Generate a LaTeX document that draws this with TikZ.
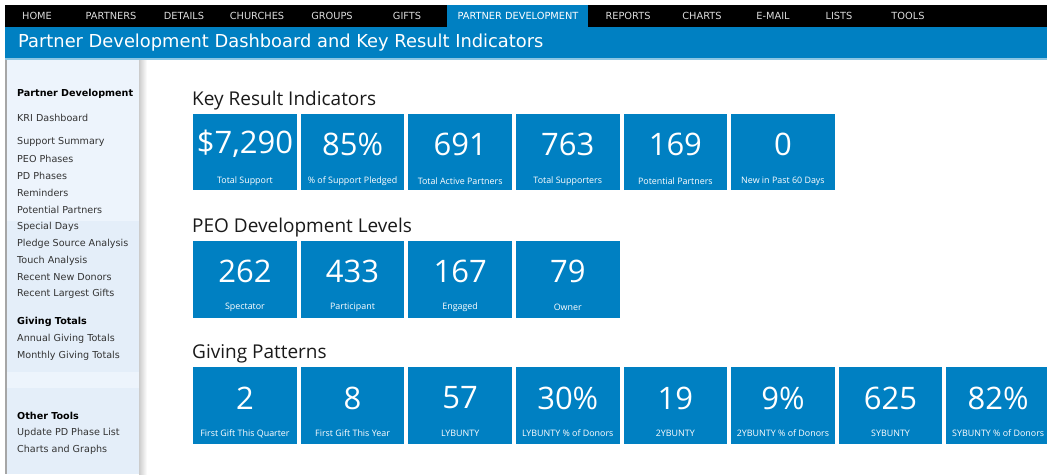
\documentclass[tikz,border=0pt]{standalone}
\usepackage{fontspec}
\setmainfont{DejaVu Sans}
\newfontfamily\osans{Open Sans}
\usetikzlibrary{calc}
\definecolor{dblue}{HTML}{0080C2}
\definecolor{navtxt}{HTML}{DCDCDC}
\definecolor{sideA}{HTML}{EDF4FC}
\definecolor{sideB}{HTML}{E4EEF9}
\definecolor{sidetxt}{HTML}{333333}
\definecolor{headtxt}{HTML}{1A1A1A}
\tikzset{
  navitem/.style={text=navtxt, font=\fontsize{9.8}{11}\selectfont, inner sep=0pt},
  sideitem/.style={text=sidetxt, font=\fontsize{9.6}{11}\selectfont, anchor=west, inner sep=0pt},
  sidehead/.style={text=black, font=\fontsize{9.6}{11}\selectfont\bfseries, anchor=west, inner sep=0pt},
  sechead/.style={text=headtxt, font=\osans\fontsize{19}{22}\selectfont, anchor=west, inner sep=0pt},
  tilebox/.style={fill=dblue, draw=none, minimum width=103.5pt, minimum height=76.5pt, anchor=north west, inner sep=0pt},
  tilenum/.style={text=white, font=\osans\fontsize{31}{34}\selectfont, inner sep=0pt},
  tilelab/.style={text=white, font=\osans\fontsize{8.9}{10}\selectfont, inner sep=0pt},
}
\begin{document}
\begin{tikzpicture}[x=1pt,y=-1pt]
\useasboundingbox (0,0) rectangle (1047,474);
\clip (0,0) rectangle (1047,474);
\fill[white] (0,0) rectangle (1047,474);
% top nav
\fill[black] (5,5) rectangle (1047,27);
\fill[dblue] (447,5) rectangle (588,27);
\node[navitem] (n1) at (37,16) {HOME};
\node[navitem] (n2) at (111,16) {PARTNERS};
\node[navitem] (n3) at (184,16) {DETAILS};
\node[navitem] (n4) at (257,16) {CHURCHES};
\node[navitem] (n5) at (332,16) {GROUPS};
\node[navitem] (n6) at (407,16) {GIFTS};
\node[navitem, text=white] (n7) at (518,16) {PARTNER DEVELOPMENT};
\node[navitem] (n8) at (628,16) {REPORTS};
\node[navitem] (n9) at (702,16) {CHARTS};
\node[navitem] (n10) at (773,16) {E-MAIL};
\node[navitem] (n11) at (839,16) {LISTS};
\node[navitem] (n12) at (908,16) {TOOLS};
% title bar
\fill[dblue] (5,27) rectangle (1047,58);
\fill[dblue!45] (5,58) rectangle (1047,60);
\node[text=white, font=\fontsize{17.85}{20}\selectfont, anchor=west, inner sep=0pt] (title) at (18,43) {Partner Development Dashboard and Key Result Indicators};
% sidebar
\fill[sideA] (5,60) rectangle (140,221);
\fill[sideB] (5,221) rectangle (140,372);
\fill[sideA] (5,372) rectangle (140,388);
\fill[sideB] (5,388) rectangle (140,474);
\fill[gray!70] (5,60) rectangle (6.5,474);
\shade[left color=gray!40, right color=white] (139,60) rectangle (147,474);
\node[sidehead] (s0) at (17,94) {Partner Development};
\node[sideitem] (s1) at (17,118) {KRI Dashboard};
\node[sideitem] (s2) at (17,142) {Support Summary};
\node[sideitem] (s3) at (17,158.5) {PEO Phases};
\node[sideitem] (s4) at (17,175.5) {PD Phases};
\node[sideitem] (s5) at (17,192.5) {Reminders};
\node[sideitem] (s6) at (17,209.5) {Potential Partners};
\node[sideitem] (s7) at (17,226.5) {Special Days};
\node[sideitem] (s8) at (17,243.5) {Pledge Source Analysis};
\node[sideitem] (s9) at (17,260.5) {Touch Analysis};
\node[sideitem] (s10) at (17,277.5) {Recent New Donors};
\node[sideitem] (s11) at (17,293.5) {Recent Largest Gifts};
\node[sidehead] (s12) at (17,321.5) {Giving Totals};
\node[sideitem] (s13) at (17,338.5) {Annual Giving Totals};
\node[sideitem] (s14) at (17,355.5) {Monthly Giving Totals};
\node[sidehead] (s15) at (17,415.5) {Other Tools};
\node[sideitem] (s16) at (17,432.5) {Update PD Phase List};
\node[sideitem] (s17) at (17,450) {Charts and Graphs};
% section headings
\node[sechead] (h1) at (192,100.5) {Key Result Indicators};
\node[sechead] (h2) at (192,227.5) {PEO Development Levels};
\node[sechead] (h3) at (192,353.5) {Giving Patterns};
% tiles
\foreach \num/\lab [count=\i from 0] in {{\$7,290}/{Total Support},{85\%}/{\% of Support Pledged},{691}/{Total Active Partners},{763}/{Total Supporters},{169}/{Potential Partners},{0}/{New in Past 60 Days}}{
  \node[tilebox] (ta\i) at ({193+\i*107.6},113.5) {};
  \node[tilenum] (tan\i) at ($(ta\i.north)+(0,30.5)$) {\num};
  \node[tilelab] (tal\i) at ($(ta\i.north)+(0,67.5)$) {\lab};
}
\foreach \num/\lab [count=\i from 0] in {{262}/{Spectator},{433}/{Participant},{167}/{Engaged},{79}/{Owner}}{
  \node[tilebox] (tb\i) at ({193+\i*107.6},241) {};
  \node[tilenum] (tbn\i) at ($(tb\i.north)+(0,30.5)$) {\num};
  \node[tilelab] (tbl\i) at ($(tb\i.north)+(0,66.5)$) {\lab};
}
\foreach \num/\lab [count=\i from 0] in {{2}/{First Gift This Quarter},{8}/{First Gift This Year},{57}/{LYBUNTY},{30\%}/{LYBUNTY \% of Donors},{19}/{2YBUNTY},{9\%}/{2YBUNTY \% of Donors},{625}/{SYBUNTY},{82\%}/{SYBUNTY \% of Donors}}{
  \node[tilebox] (tc\i) at ({193+\i*107.6},367) {};
  \node[tilenum] (tcn\i) at ($(tc\i.north)+(0,31)$) {\num};
  \node[tilelab] (tcl\i) at ($(tc\i.north)+(0,66.5)$) {\lab};
}
\end{tikzpicture}
\end{document}
